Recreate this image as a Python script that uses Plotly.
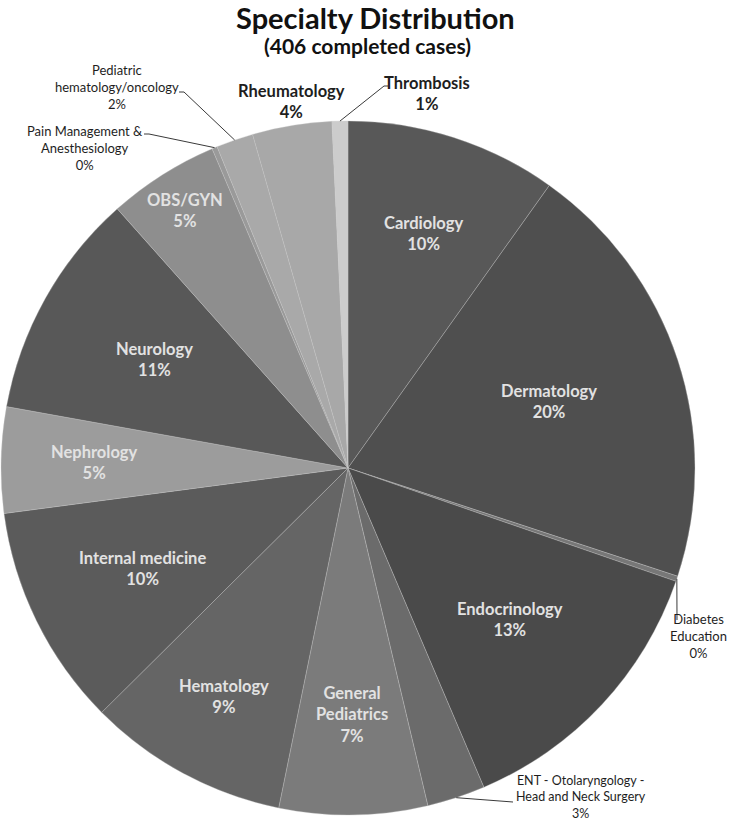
import math
import plotly.graph_objects as go

# ---- data ----
specialties = [
    "Cardiology", "Dermatology", "Diabetes Education", "Endocrinology",
    "ENT - Otolaryngology - Head and Neck Surgery", "General Pediatrics",
    "Hematology", "Internal medicine", "Nephrology", "Neurology", "OBS/GYN",
    "Pain Management & Anesthesiology", "Pediatric hematology/oncology",
    "Rheumatology", "Thrombosis",
]
cases = [40, 82, 1, 54, 11, 28, 38, 42, 20, 43, 21, 1, 7, 15, 3]
slice_colors = [
    "#585858", "#4f4f4f", "#777777", "#4a4a4a", "#6b6b6b", "#7b7b7b",
    "#656565", "#5b5b5b", "#9c9c9c", "#585858", "#8e8e8e", "#9a9a9a",
    "#a9a9a9", "#a8a8a8", "#cccccc",
]
# display text for each label (line breaks)
label_text = {
    "Cardiology": "Cardiology",
    "Dermatology": "Dermatology",
    "Diabetes Education": "Diabetes<br>Education",
    "Endocrinology": "Endocrinology",
    "ENT - Otolaryngology - Head and Neck Surgery": "ENT - Otolaryngology -<br>Head and Neck Surgery",
    "General Pediatrics": "General<br>Pediatrics",
    "Hematology": "Hematology",
    "Internal medicine": "Internal medicine",
    "Nephrology": "Nephrology",
    "Neurology": "Neurology",
    "OBS/GYN": "OBS/GYN",
    "Pain Management & Anesthesiology": "Pain Management &<br>Anesthesiology",
    "Pediatric hematology/oncology": "Pediatric<br>hematology/oncology",
    "Rheumatology": "Rheumatology",
    "Thrombosis": "Thrombosis",
}

# ---- layout / style ----
W, H = 733, 821
CX, CY, R = 348, 468, 347  # pie centre and radius in pixels

# inside labels: radial fraction of radius
inside_r = {
    "Cardiology": 0.71, "Dermatology": 0.61, "Endocrinology": 0.64,
    "General Pediatrics": 0.71, "Hematology": 0.75, "Internal medicine": 0.66,
    "Nephrology": 0.73, "Neurology": 0.64, "OBS/GYN": 0.88,
}
# outside labels: label centre (px), leader-line anchor near text (px), font style
outside = {
    "Diabetes Education": dict(pos=(698, 636), anchor=[(677, 620)], size=13, bold=False),
    "ENT - Otolaryngology - Head and Neck Surgery": dict(pos=(581, 797), anchor=[(513, 802)], size=12.5, bold=False),
    "Pain Management & Anesthesiology": dict(pos=(85, 148), anchor=[(144, 134), (149, 134)], size=13, bold=False),
    "Pediatric hematology/oncology": dict(pos=(117, 87), anchor=[(179, 92), (184, 92)], size=13, bold=False),
    "Rheumatology": dict(pos=(291, 102), anchor=None, size=16.5, bold=True),
    "Thrombosis": dict(pos=(427, 93), anchor=[(388, 86), (384, 86)], size=16.5, bold=True),
}

FONT = "Lato"
total = sum(cases)


def px_to_paper(x, y):
    return x / W, 1 - y / H


fig = go.Figure()
fig.add_trace(go.Pie(
    labels=specialties, values=cases, sort=False, direction="clockwise",
    rotation=0, textinfo="none", hoverinfo="label+value+percent",
    marker=dict(colors=slice_colors, line=dict(color="rgba(200,200,200,0.55)", width=0.6)),
    domain=dict(x=[(CX - R) / W, (CX + R) / W], y=[(H - CY - R) / H, (H - CY + R) / H]),
    showlegend=False,
))

annotations = []
shapes = []
cum = 0
for name, v in zip(specialties, cases):
    mid = (cum + v / 2) / total * 2 * math.pi
    cum += v
    pct = f"{round(v / total * 100):d}%"
    if name in inside_r:
        rr = inside_r[name] * R
        x = CX + rr * math.sin(mid)
        y = CY - rr * math.cos(mid)
        px, py = px_to_paper(x, y)
        annotations.append(dict(
            x=px, y=py, xref="paper", yref="paper", showarrow=False,
            text=f"<b>{label_text[name]}<br>{pct}</b>", align="center",
            font=dict(family=FONT, size=16.5, color="#e2e2e2"),
            xanchor="center", yanchor="middle",
        ))
    else:
        o = outside[name]
        px, py = px_to_paper(*o["pos"])
        txt = f"{label_text[name]}<br>{pct}"
        if o["bold"]:
            txt = f"<b>{txt}</b>"
        annotations.append(dict(
            x=px, y=py, xref="paper", yref="paper", showarrow=False,
            text=txt, align="center",
            font=dict(family=FONT, size=o["size"], color="#1e1e1e"),
            xanchor="center", yanchor="middle",
        ))
        if o["anchor"]:
            ex = CX + R * math.sin(mid)
            ey = CY - R * math.cos(mid)
            pts = [(ex, ey)] + o["anchor"][::-1] if len(o["anchor"]) > 1 else [(ex, ey)] + o["anchor"]
            path = "M " + " L ".join(f"{a / W},{1 - b / H}" for a, b in pts)
            shapes.append(dict(type="path", xref="paper", yref="paper", path=path,
                               line=dict(color="#3a3a3a", width=1)))

# title
tx, ty = px_to_paper(375, 18)
annotations.append(dict(x=tx, y=ty, xref="paper", yref="paper", showarrow=False,
                        text="<b>Specialty Distribution</b>", xanchor="center", yanchor="middle",
                        font=dict(family=FONT, size=29, color="#111111")))
sx, sy = px_to_paper(367, 46)
annotations.append(dict(x=sx, y=sy, xref="paper", yref="paper", showarrow=False,
                        text="<b>(406 completed cases)</b>", xanchor="center", yanchor="middle",
                        font=dict(family=FONT, size=21, color="#111111")))

fig.update_layout(
    width=W, height=H, margin=dict(l=0, r=0, t=0, b=0),
    paper_bgcolor="white", plot_bgcolor="white",
    annotations=annotations, shapes=shapes,
    font=dict(family=FONT),
)

fig.write_html("out.html", config={"displayModeBar": False},
               post_script="document.body.style.margin='0px';document.body.style.overflow='hidden';")
